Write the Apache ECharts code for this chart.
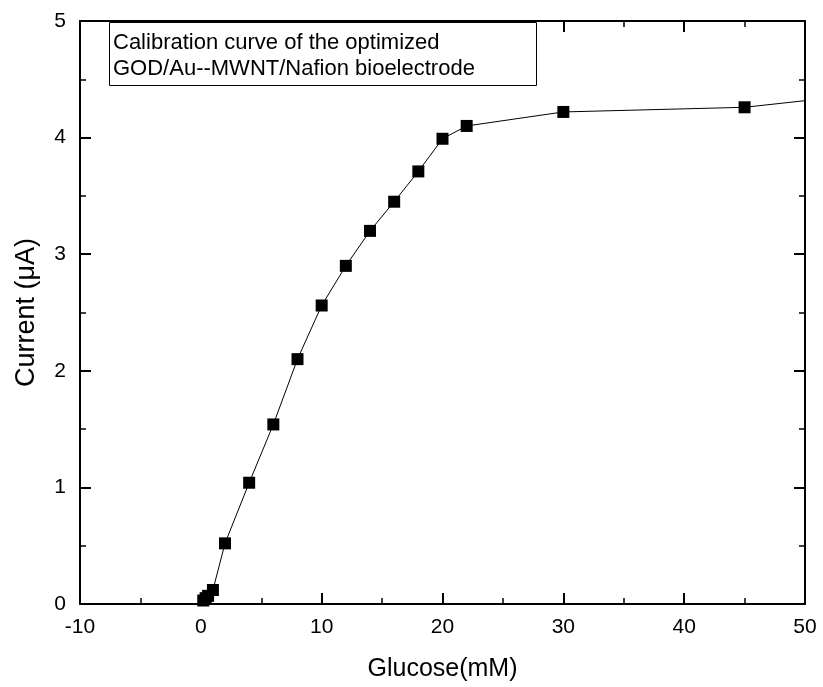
<!DOCTYPE html>
<html>
<head>
<meta charset="utf-8">
<script src="https://cdn.jsdelivr.net/npm/echarts@6/dist/echarts.min.js"></script>
<style>
	html, body { margin: 0; padding: 0; background: #fff; }
	#chart { width: 823px; height: 687px; }
</style>
</head>
<body>
<div id="chart"></div>
<script>
	// glucose concentration (mM) and measured current (uA)
	var glucose = [0.2, 0.4, 0.6, 1, 2, 4, 6, 8, 10, 12, 14, 16, 18, 20, 22, 30, 45, 60];
	var current = [0.03, 0.05, 0.07, 0.12, 0.52, 1.04, 1.54, 2.10, 2.56, 2.90, 3.20, 3.45, 3.71, 3.99, 4.10, 4.22, 4.26, 4.43];
	var boxText = ['Calibration curve of the optimized', 'GOD/Au--MWNT/Nafion bioelectrode'];

	var font = 'Liberation Sans, Arial, sans-serif';
	var chart = echarts.init(document.getElementById('chart'));

	var points = [];
	for (var i = 0; i < glucose.length; i++) {
		points.push([glucose[i], current[i]]);
	}

	var axisLine = { show: true, onZero: false, lineStyle: { color: '#000', width: 2 } };
	var tick = { show: true, inside: true, length: 11, lineStyle: { color: '#000', width: 2 } };
	var minor = { show: true, splitNumber: 2, length: 6, lineStyle: { color: '#000', width: 1.5 } };

	chart.setOption({
		animation: false,
		title: {
			text: boxText.join('\n'),
			left: 109,
			top: 22,
			padding: [8, 4, 4, 4],
			borderColor: '#000',
			borderWidth: 1,
			backgroundColor: '#fff',
			textStyle: {
				fontFamily: font,
				fontSize: 22,
				fontWeight: 'normal',
				color: '#000',
				lineHeight: 26,
				width: 420
			}
		},
		grid: { left: 80, right: 18, top: 21, bottom: 83 },
		xAxis: [{
			type: 'value',
			min: -10,
			max: 50,
			interval: 10,
			name: 'Glucose(mM)',
			nameLocation: 'middle',
			nameGap: 53,
			nameTextStyle: { fontFamily: font, fontSize: 25, color: '#000' },
			axisLine: axisLine,
			axisTick: tick,
			minorTick: minor,
			splitLine: { show: false },
			axisLabel: { fontFamily: font, fontSize: 21, color: '#000', margin: 13 }
		}, {
			type: 'value',
			position: 'top',
			min: -10,
			max: 50,
			interval: 10,
			axisLine: axisLine,
			axisTick: tick,
			minorTick: minor,
			splitLine: { show: false },
			axisLabel: { show: false }
		}],
		yAxis: [{
			type: 'value',
			min: 0,
			max: 5,
			interval: 1,
			name: 'Current (\u03bcA)',
			nameLocation: 'middle',
			nameGap: 40,
			nameTextStyle: { fontFamily: font, fontSize: 27, color: '#000' },
			axisLine: axisLine,
			axisTick: tick,
			minorTick: minor,
			splitLine: { show: false },
			axisLabel: { fontFamily: font, fontSize: 21, color: '#000', margin: 14 }
		}, {
			type: 'value',
			position: 'right',
			min: 0,
			max: 5,
			interval: 1,
			axisLine: axisLine,
			axisTick: tick,
			minorTick: minor,
			splitLine: { show: false },
			axisLabel: { show: false }
		}],
		series: [{
			type: 'line',
			data: points,
			clip: true,
			symbol: 'rect',
			symbolSize: 12,
			itemStyle: { color: '#000' },
			lineStyle: { color: '#000', width: 1 }
		}]
	});
</script>
</body>
</html>
